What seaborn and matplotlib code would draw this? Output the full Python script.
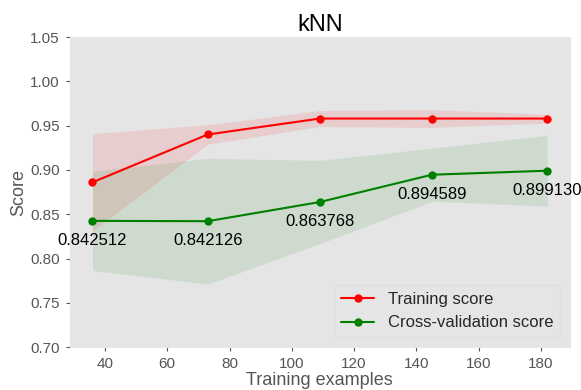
import numpy as np
import pandas as pd
import matplotlib
matplotlib.use("Agg")
import matplotlib.pyplot as plt
import seaborn as sns

train_sizes = [36, 73, 109, 145, 182]
train_mean = [0.886, 0.940, 0.958, 0.958, 0.958]
train_std = [0.055, 0.011, 0.009, 0.010, 0.005]
cv_mean = [0.842512, 0.842126, 0.863768, 0.894589, 0.899130]
cv_std = [0.056, 0.071, 0.047, 0.030, 0.040]
cv_labels = ["0.842512", "0.842126", "0.863768", "0.894589", "0.899130"]

sns.set_style("dark", {"axes.facecolor": "#E5E5E5", "axes.edgecolor": "#E5E5E5",
                       "xtick.bottom": True, "ytick.left": True})
plt.rcParams['font.family'] = ['Liberation Sans', 'DejaVu Sans']
plt.rcParams['xtick.color'] = '#555555'
plt.rcParams['ytick.color'] = '#555555'
plt.rcParams['xtick.major.size'] = 3
plt.rcParams['ytick.major.size'] = 3

df = pd.DataFrame({
    "size": train_sizes * 2,
    "score": train_mean + cv_mean,
    "kind": ["Training score"] * 5 + ["Cross-validation score"] * 5,
})

fig, ax = plt.subplots(figsize=(5.81, 3.9), dpi=100)

lo_t = np.array(train_mean) - np.array(train_std)
hi_t = np.array(train_mean) + np.array(train_std)
lo_c = np.array(cv_mean) - np.array(cv_std)
hi_c = np.array(cv_mean) + np.array(cv_std)
ax.fill_between(train_sizes, lo_t, hi_t, color="r", alpha=0.1, linewidth=0)
ax.fill_between(train_sizes, lo_c, hi_c, color="g", alpha=0.1, linewidth=0)

sns.lineplot(data=df, x="size", y="score", hue="kind", palette=["r", "g"],
             marker="o", markersize=6, markeredgewidth=0, linewidth=1.5, ax=ax)

for x, y, s in zip(train_sizes, cv_mean, cv_labels):
    ax.text(x, y - 0.022, s, ha="center", va="center", fontsize=12, color="black")

ax.set_ylim(0.70, 1.05)
ax.set_yticks(np.arange(0.70, 1.0501, 0.05))
ax.set_xticks([40, 60, 80, 100, 120, 140, 160, 180])
ax.tick_params(labelsize=11, pad=4)
ax.set_title("kNN", fontsize=17, color="black", pad=4)
ax.set_xlabel("Training examples", fontsize=13, color="#555555", labelpad=1)
ax.set_ylabel("Score", fontsize=13, color="#555555", labelpad=2)
ax.legend(loc="lower right", fontsize=12, frameon=True, facecolor="#E5E5E5",
          edgecolor="#DDDDDD", borderaxespad=0.6)

plt.subplots_adjust(left=0.12, right=0.981, top=0.905, bottom=0.11)
plt.savefig("out.png", dpi=100)
